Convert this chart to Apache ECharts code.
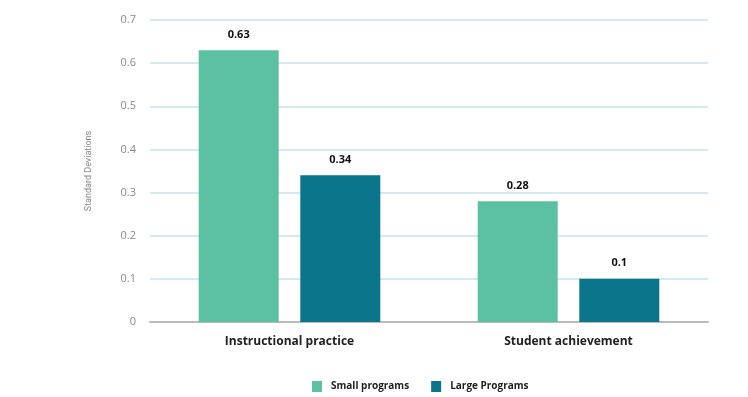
<!DOCTYPE html>
<html>
<head>
<meta charset="utf-8">
<script src="https://cdn.jsdelivr.net/npm/echarts@6/dist/echarts.min.js"></script>
<style>
  html, body { margin: 0; padding: 0; background: #fff; }
  #chart { width: 748px; height: 397px; }
</style>
</head>
<body>
<div id="chart"></div>
<script>
var categories = ['Instructional practice', 'Student achievement'];
var smallPrograms = [0.63, 0.28];
var largePrograms = [0.34, 0.1];
var yTicks = [0, 0.1, 0.2, 0.3, 0.4, 0.5, 0.6, 0.7];

var myChart = echarts.init(document.getElementById('chart'));

var valueLabel = {
    show: true,
    position: 'top',
    distance: 10,
    color: '#111',
    fontWeight: 'bold',
    fontSize: 11,
    fontFamily: 'Open Sans'
};

var option = {
    animation: false,
    grid: {
        left: 150,
        right: 40,
        top: 20,
        bottom: 75
    },
    legend: {
        top: 381,
        left: 312,
        padding: 0,
        itemWidth: 10,
        itemHeight: 11,
        itemGap: 22,
        icon: 'rect',
        textStyle: {
            color: '#222',
            fontSize: 10,
            fontWeight: 'bold',
            fontFamily: 'Open Sans',
            padding: [0, 0, 0, 4]
        },
        data: ['Small programs', 'Large Programs']
    },
    xAxis: {
        type: 'category',
        data: categories,
        axisTick: { show: false },
        axisLine: { lineStyle: { color: '#bbbbbb', width: 2 } },
        axisLabel: {
            color: '#222',
            fontSize: 12,
            fontWeight: 'bold',
            fontFamily: 'Open Sans',
            margin: 14
        }
    },
    yAxis: {
        type: 'value',
        min: yTicks[0],
        max: yTicks[yTicks.length - 1],
        interval: 0.1,
        name: 'Standard Deviations',
        nameLocation: 'middle',
        nameGap: 57,
        nameTextStyle: {
            color: '#888',
            fontSize: 9,
            fontFamily: 'Roboto'
        },
        axisLabel: {
            color: '#888',
            fontSize: 11,
            fontFamily: 'Open Sans',
            margin: 14
        },
        splitLine: { lineStyle: { color: '#d3eaf2', width: 2 } }
    },
    series: [
        {
            name: 'Small programs',
            type: 'bar',
            data: smallPrograms,
            barWidth: 80,
            barGap: '27%',
            itemStyle: { color: '#5cc0a2' },
            label: valueLabel
        },
        {
            name: 'Large Programs',
            type: 'bar',
            data: largePrograms,
            barWidth: 80,
            itemStyle: { color: '#0a748a' },
            label: valueLabel
        }
    ]
};

myChart.setOption(option);
</script>
</body>
</html>
